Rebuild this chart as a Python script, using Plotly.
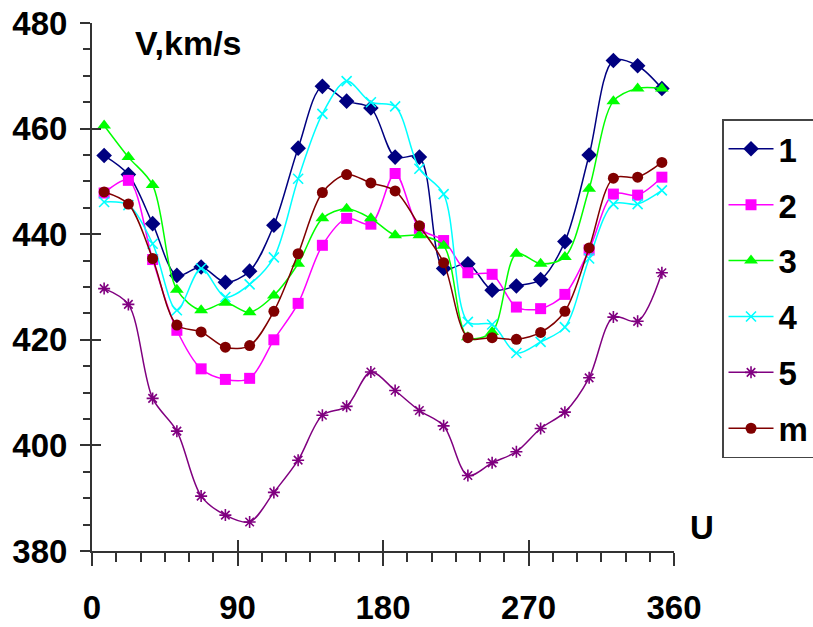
import plotly.graph_objects as go

U = [7.5, 22.5, 37.5, 52.5, 67.5, 82.5, 97.5, 112.5, 127.5, 142.5, 157.5, 172.5,
     187.5, 202.5, 217.5, 232.5, 247.5, 262.5, 277.5, 292.5, 307.5, 322.5, 337.5, 352.5]

s1 = [454.9, 451.3, 442.0, 432.2, 433.8, 430.9, 433.0, 441.7, 456.3, 468.0, 465.2, 463.9,
      454.6, 454.6, 433.5, 434.4, 429.4, 430.2, 431.4, 438.6, 455.0, 472.9, 471.9, 467.6]
s2 = [447.8, 450.2, 435.2, 421.8, 414.5, 412.5, 412.7, 420.0, 426.9, 437.9, 443.0, 441.9,
      451.5, 441.1, 438.8, 432.7, 432.4, 426.2, 425.9, 428.6, 437.0, 447.6, 447.4, 450.8]
s3 = [460.6, 454.6, 449.3, 429.5, 425.6, 427.0, 425.2, 428.4, 434.4, 443.0, 444.8, 443.0,
      439.8, 439.8, 437.8, 420.5, 421.5, 436.3, 434.4, 435.7, 448.6, 465.2, 467.6, 467.6]
s4 = [446.1, 445.5, 438.2, 425.6, 433.5, 428.1, 430.5, 435.6, 450.5, 462.8, 469.0, 465.0,
      464.2, 452.4, 447.6, 423.4, 422.9, 417.5, 419.6, 422.4, 435.4, 445.7, 445.7, 448.3]
s5 = [429.7, 426.7, 408.9, 402.7, 390.4, 386.8, 385.5, 391.1, 397.2, 405.7, 407.4, 413.9,
      410.4, 406.6, 403.7, 394.3, 396.7, 398.8, 403.2, 406.3, 412.8, 424.3, 423.5, 432.7]
sm = [448.0, 445.7, 435.4, 422.8, 421.5, 418.6, 418.9, 425.4, 436.3, 447.9, 451.3, 449.7,
      448.2, 441.6, 434.6, 420.4, 420.4, 420.1, 421.4, 425.4, 437.4, 450.6, 450.8, 453.6]

names = ["1", "2", "3", "4", "5", "m"]
series = [s1, s2, s3, s4, s5, sm]
colors = ["#000080", "#FF00FF", "#00FF00", "#00FFFF", "#800080", "#800000"]
symbols = ["diamond", "square", "triangle-up", "x-thin-open", "asterisk-open", "circle"]
sizes = [12, 11, 12, 10, 10, 11]

FONT = "Liberation Sans, Arial, sans-serif"
FS = 33

fig = go.Figure()
for i, (nm, ys) in enumerate(zip(names, series)):
    open_sym = symbols[i].endswith("open")
    fig.add_trace(go.Scatter(
        x=U, y=ys, name=nm, mode="lines+markers",
        line=dict(color=colors[i], width=1.5, shape="spline", smoothing=0.9),
        marker=dict(symbol=symbols[i], size=sizes[i], color=colors[i],
                    line=dict(color=colors[i], width=1.6 if open_sym else 0)),
        legendgroup=nm,
    ))

axcol = "#333333"
fig.update_layout(
    width=813, height=627,
    margin=dict(l=92, r=139, t=23, b=76, autoexpand=False),
    paper_bgcolor="white", plot_bgcolor="white",
    font=dict(family=FONT, size=FS, color="black"),
    showlegend=True,
    legend=dict(x=1.0825, xanchor="left", y=0.8176, yanchor="top",
                bordercolor="#444444", borderwidth=1.5,
                font=dict(family=FONT, size=FS, color="black", weight="bold"),
                tracegroupgap=10, traceorder="grouped", itemwidth=45),
    xaxis=dict(range=[0, 360], tickvals=[0, 90, 180, 270, 360],
               ticks="outside", ticklen=13, tickwidth=2, tickcolor=axcol,
               showline=True, linecolor=axcol, linewidth=2, showgrid=False,
               zeroline=False, ticklabelstandoff=13, ticklabeloverflow="allow",
               tickfont=dict(family=FONT, size=FS, color="black", weight="bold"),
               minor=dict(dtick=15, tick0=0, ticks="outside", ticklen=9,
                          tickwidth=1.5, tickcolor=axcol, showgrid=False)),
    yaxis=dict(range=[380, 480], dtick=20, tick0=380,
               ticks="outside", ticklen=10, tickwidth=2, tickcolor=axcol,
               showline=True, linecolor=axcol, linewidth=2, showgrid=False,
               zeroline=False, ticklabelstandoff=6, ticklabeloverflow="allow",
               tickfont=dict(family=FONT, size=FS, color="black", weight="bold"),
               minor=dict(dtick=5, tick0=380, ticks="outside", ticklen=7,
                          tickwidth=1.5, tickcolor=axcol, showgrid=False)),
    xaxis2=dict(range=[0, 360], overlaying="x", anchor="y", side="bottom",
                tickvals=[90, 180, 270, 360], ticks="inside", ticklen=11,
                tickwidth=2, tickcolor=axcol, showticklabels=False,
                showline=False, showgrid=False, zeroline=False),
    yaxis2=dict(range=[380, 480], overlaying="y", anchor="x", side="left",
                dtick=20, tick0=380, ticks="inside", ticklen=9,
                tickwidth=2, tickcolor=axcol, showticklabels=False,
                showline=False, showgrid=False, zeroline=False),
    annotations=[
        dict(text="<b>V,km/s</b>", xref="paper", yref="paper", x=0.0704, y=0.962,
             xanchor="left", yanchor="middle", showarrow=False,
             font=dict(family=FONT, size=FS + 1, color="black")),
        dict(text="<b>U</b>", xref="paper", yref="paper", x=1.048, y=0.045,
             xanchor="center", yanchor="middle", showarrow=False,
             font=dict(family=FONT, size=FS, color="black")),
    ],
)
fig.add_trace(go.Scatter(x=[], y=[], xaxis="x2", yaxis="y2", showlegend=False,
                         hoverinfo="skip"))

fig.write_html("out.html",
               config={"displayModeBar": False},
               post_script="document.body.style.margin='0px';"
                           "document.body.style.overflow='hidden';")
